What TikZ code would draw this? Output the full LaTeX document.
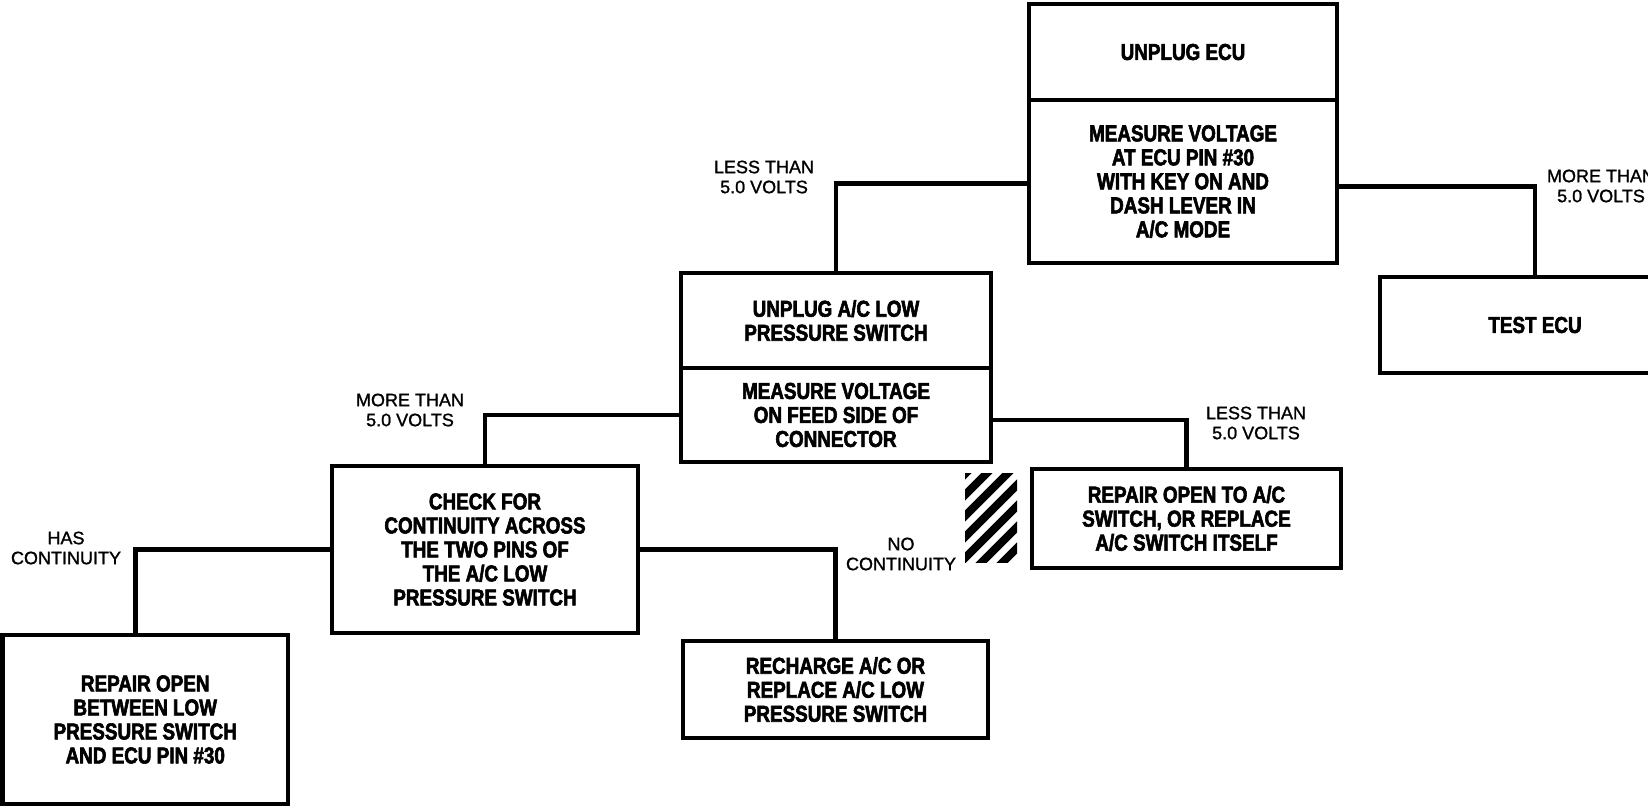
\documentclass[tikz,border=0pt]{standalone}
\usepackage{fontspec}
\setmainfont{Liberation Sans}
\newfontfamily\boxfont[FakeStretch=0.82,FakeBold=2.5]{Liberation Sans}
\newfontfamily\lblfont[FakeBold=1.2]{Liberation Sans}
\tikzset{
  box/.style={draw, line width=4.5pt, inner sep=0pt, align=center,
    font=\boxfont\bfseries\fontsize{23}{24}\selectfont},
  lbl/.style={align=center, inner sep=0pt, font=\lblfont\fontsize{18}{20}\selectfont},
  conn/.style={line width=4.5pt},
  stripe/.style={line width=8pt}
}
\begin{document}
\begin{tikzpicture}[x=1pt,y=-1pt]
\useasboundingbox (0,0) rectangle (1648,808);
\clip (0,0) rectangle (1648,808);
% boxes
\node[box, minimum width=308, minimum height=96] (ue) at (1183,52) {UNPLUG ECU};
\node[box, minimum width=308, minimum height=163] (mv) at (1183,181.5) {MEASURE VOLTAGE\\AT ECU PIN \#30\\WITH KEY ON AND\\DASH LEVER IN\\A/C MODE};
\node[box, minimum width=310, minimum height=96] (te) at (1535,325) {TEST ECU};
\node[box, minimum width=310, minimum height=95] (ua) at (836,320.5) {UNPLUG A/C LOW\\PRESSURE SWITCH};
\node[box, minimum width=310, minimum height=94] (mf) at (836,415) {MEASURE VOLTAGE\\ON FEED SIDE OF\\CONNECTOR};
\node[box, minimum width=309, minimum height=99] (ro) at (1186.5,518.5) {REPAIR OPEN TO A/C\\SWITCH, OR REPLACE\\A/C SWITCH ITSELF};
\node[box, minimum width=306, minimum height=167] (ck) at (485,549.5) {CHECK FOR\\CONTINUITY ACROSS\\THE TWO PINS OF\\THE A/C LOW\\PRESSURE SWITCH};
\node[box, minimum width=285.5, minimum height=169] (rb) at (145.25,719.5) {REPAIR OPEN\\BETWEEN LOW\\PRESSURE SWITCH\\AND ECU PIN \#30};
\node[box, minimum width=305, minimum height=97] (rc) at (835.5,689.5) {RECHARGE A/C OR\\REPLACE A/C LOW\\PRESSURE SWITCH};
% connectors
\draw[conn] ([yshift=-2pt]mv.west) -| (ua.north);
\draw[conn] ([yshift=-5pt]mv.east) -| (te.north);
\draw[conn] (mf.west) -| (ck.north);
\draw[conn] ([yshift=-5pt]mf.east) -| (ro.north);
\draw[conn] (ck.west) -| ([xshift=-10pt]rb.north);
\draw[conn] (ck.east) -| (rc.north);
% labels
\node[lbl] (l1) at (764,177) {LESS THAN\\5.0 VOLTS};
\node[lbl] (l2) at (1601,186) {MORE THAN\\5.0 VOLTS};
\node[lbl] (l3) at (410,410) {MORE THAN\\5.0 VOLTS};
\node[lbl] (l4) at (1256,423) {LESS THAN\\5.0 VOLTS};
\node[lbl] (l5) at (901,554) {NO\\CONTINUITY};
\node[lbl] (l6) at (66,548) {HAS\\CONTINUITY};
% hatched square
\begin{scope}
  \clip (965,473) rectangle (1017,562);
  \foreach \k in {0,...,9} \draw[stripe] (955,{610-\k*21}) -- ++(80,-80);
\end{scope}
\end{tikzpicture}
\end{document}
